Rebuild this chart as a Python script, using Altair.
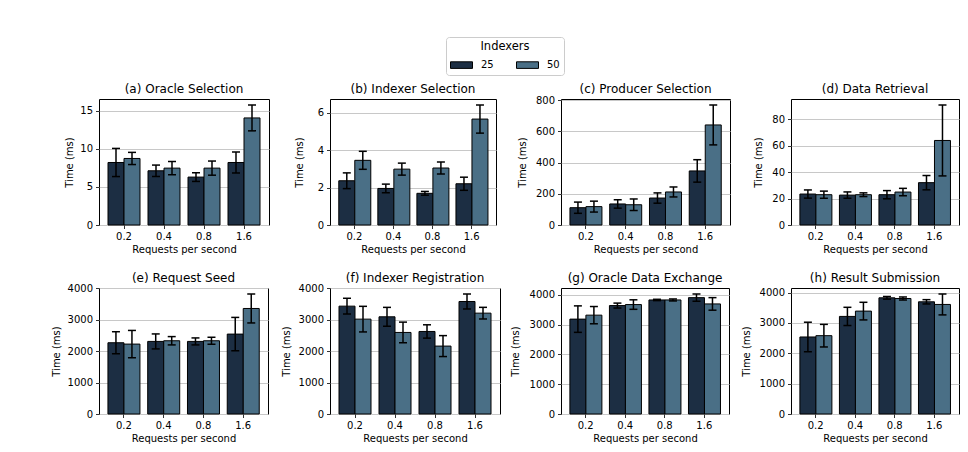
import altair as alt
import pandas as pd

rps = ["0.2", "0.4", "0.8", "1.6"]
indexers = ["25", "50"]
colors = ["#1c2e43", "#4a6f86"]

titles = ["(a) Oracle Selection", "(b) Indexer Selection", "(c) Producer Selection",
          "(d) Data Retrieval", "(e) Request Seed", "(f) Indexer Registration",
          "(g) Oracle Data Exchange", "(h) Result Submission"]

mean_25 = [
    [8.22, 7.13, 6.30, 8.22],
    [2.36, 1.95, 1.69, 2.20],
    [111, 135, 173, 347],
    [23.4, 22.6, 22.9, 32.0],
    [2265, 2307, 2307, 2540],
    [3429, 3090, 2624, 3577],
    [3189, 3644, 3833, 3911],
    [2536, 3213, 3825, 3694],
]
err_25 = [
    [1.85, 0.75, 0.57, 1.38],
    [0.42, 0.23, 0.10, 0.35],
    [36, 27, 33, 72],
    [3.1, 2.4, 3.1, 5.4],
    [350, 238, 111, 530],
    [250, 300, 212, 238],
    [445, 83, 22, 122],
    [486, 300, 44, 71],
]
mean_50 = [
    [8.75, 7.48, 7.48, 14.08],
    [3.45, 2.98, 3.04, 5.65],
    [118, 130, 212, 642],
    [22.9, 22.9, 24.9, 63.9],
    [2222, 2328, 2328, 3354],
    [3016, 2593, 2159, 3206],
    [3322, 3678, 3833, 3700],
    [2579, 3388, 3803, 3607],
]
err_50 = [
    [0.80, 0.87, 0.93, 1.70],
    [0.48, 0.32, 0.32, 0.75],
    [35, 37, 32, 128],
    [2.7, 1.4, 2.8, 26.8],
    [434, 132, 111, 460],
    [407, 328, 333, 185],
    [290, 160, 33, 211],
    [372, 290, 50, 344],
]
tick_step = [5, 2, 200, 20, 1000, 1000, 1000, 1000]
tick_max = [15, 6, 800, 80, 4000, 4000, 4000, 4000]

widths = [170, 166, 169, 168, 169, 170, 168, 168]
extents = [22.5, 23.5, 31.5, 25.5, 35.5, 36.5, 38.5, 37.5]
title_dy = [2, 2, 6, 2, 7, 7, 2, 2]

legend = alt.Legend(
    orient="none", legendX=347, legendY=-62, direction="horizontal",
    title="Indexers", titleAnchor="middle", titleFontSize=11.5, titleFontWeight="normal",
    titleColor="black", labelFontSize=10, labelColor="black",
    symbolType="M-1,-0.3L1,-0.3L1,0.3L-1,0.3Z", symbolSize=484,
    symbolStrokeColor="black", symbolStrokeWidth=1, symbolOpacity=1,
    columnPadding=20, labelOffset=8, padding=4, strokeColor="#cccccc",
    cornerRadius=3, fillColor="white", titlePadding=1,
)


def panel(i):
    rows = []
    for j, r in enumerate(rps):
        for k, (m, e) in enumerate(((mean_25, err_25), (mean_50, err_50))):
            mv, ev = m[i][j], e[i][j]
            rows.append({"rps": r, "idx": indexers[k], "mean": mv, "lo": mv - ev, "hi": mv + ev})
    df = pd.DataFrame(rows)
    ymax = max(df["hi"]) * 1.05
    ticks = list(range(0, tick_max[i] + 1, tick_step[i]))
    yaxis = alt.Axis(title="Time (ms)", values=ticks, grid=True, domain=False, format="d",
                     minExtent=extents[i], maxExtent=extents[i], titlePadding=2)
    yscale = alt.Scale(domain=[0, ymax], nice=False, zero=True)
    x = alt.X("rps:N", sort=rps, scale=alt.Scale(paddingInner=0.2, paddingOuter=0.225),
              axis=alt.Axis(title="Requests per second", labelAngle=0, domain=False, grid=False))
    xo = alt.XOffset("idx:N", sort=indexers, scale=alt.Scale(paddingInner=0, paddingOuter=0))
    base = alt.Chart(df)
    bars = base.mark_bar(stroke="black", strokeWidth=1, opacity=1).encode(
        x=x, xOffset=xo,
        y=alt.Y("mean:Q", scale=yscale, axis=yaxis),
        color=alt.Color("idx:N", sort=indexers,
                        scale=alt.Scale(domain=indexers, range=colors), legend=legend),
    )
    rules = base.mark_rule(color="black", strokeWidth=1.5).encode(
        x=x, xOffset=xo, y=alt.Y("lo:Q", scale=yscale, axis=yaxis), y2="hi:Q")
    cap_hi = base.mark_tick(color="black", thickness=1.5, size=8, opacity=1).encode(
        x=x, xOffset=xo, y=alt.Y("hi:Q", scale=yscale, axis=yaxis))
    cap_lo = base.mark_tick(color="black", thickness=1.5, size=8, opacity=1).encode(
        x=x, xOffset=xo, y=alt.Y("lo:Q", scale=yscale, axis=yaxis))
    return alt.layer(bars, rules, cap_hi, cap_lo).properties(
        width=widths[i], height=126,
        title=alt.TitleParams(titles[i], fontSize=12, fontWeight="normal", offset=5,
                              color="black", frame="group", dy=title_dy[i]),
    )


p = [panel(i) for i in range(8)]

chart = alt.concat(*p, columns=4, spacing={"row": 63, "column": 61},
                   bounds="flush", align="each").properties(
    padding={"left": 51, "top": 36, "right": 5, "bottom": 5}
).configure(font="DejaVu Sans").configure_view(
    stroke="black", strokeWidth=1
).configure_axis(
    labelFontSize=10, titleFontSize=10, labelColor="black", titleColor="black",
    titleFontWeight="normal", tickColor="black", tickSize=3.5, tickWidth=0.8,
    labelPadding=3, gridColor="#c8c8c8", gridWidth=1,
).configure_axisX(titlePadding=3)

chart.save("out.html", embed_options={"renderer": "svg", "actions": False})
